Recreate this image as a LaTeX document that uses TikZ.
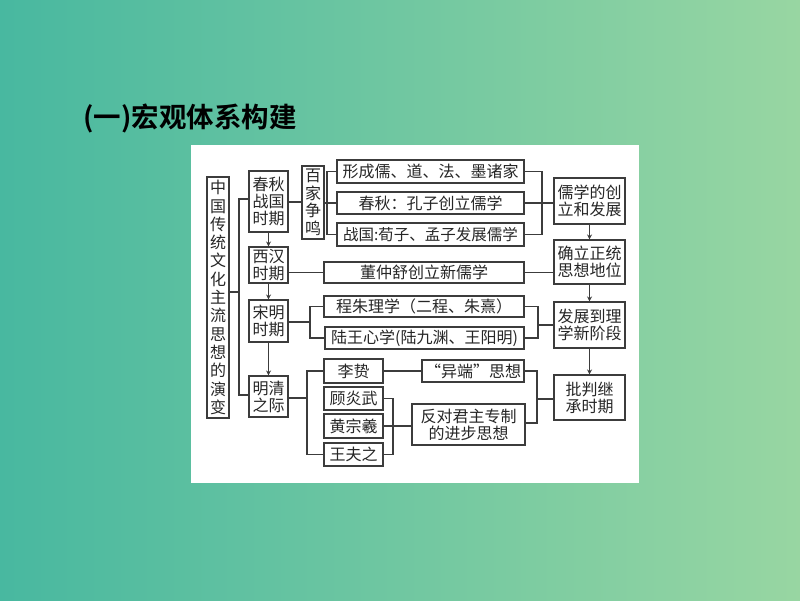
\documentclass[tikz,border=0pt]{standalone}
\usepackage{fontspec}
\setmainfont{Noto Sans CJK SC}
\newfontfamily\cjk{Noto Sans CJK SC}
\newfontfamily\cjkb{Noto Sans CJK SC}[BoldFont=* Bold]
\definecolor{bgL}{RGB}{72,184,160}
\definecolor{bgR}{RGB}{152,214,162}
\definecolor{ln}{RGB}{60,60,60}
\tikzset{
  bx/.style={draw=ln, line width=1.1pt, fill=white, inner sep=0pt, align=center,
    font=\fontsize{16}{17}\selectfont\cjk, text=black!85},
  cn/.style={draw=ln, line width=1.1pt},
  ar/.style={draw=ln, line width=1.1pt, -{Stealth[length=5pt,width=5pt]}},
}
\usetikzlibrary{arrows.meta,calc}
\begin{document}
\begin{tikzpicture}[x=1pt,y=-1pt]
\shade[left color=bgL, right color=bgR] (0,0) rectangle (800,600);
\useasboundingbox (0,0) rectangle (800,600);
\node[anchor=west, font=\fontsize{27.5}{30}\selectfont\cjkb\bfseries, text=black] (title) at (80,118) {(一)宏观体系构建};
\fill[white] (191,145) rectangle (639,483);
% left column
\node[bx, minimum width=22pt, minimum height=241pt, font=\fontsize{16}{18.3}\selectfont\cjk] (main) at (218,297.5)
 {中\\国\\传\\统\\文\\化\\主\\流\\思\\想\\的\\演\\变};
\node[bx, minimum width=39pt, minimum height=61pt] (cq) at (268.5,201.5) {春秋\\战国\\时期};
\node[bx, minimum width=39pt, minimum height=36pt] (xh) at (268.5,265) {西汉\\时期};
\node[bx, minimum width=39pt, minimum height=42pt] (sm) at (268.5,321) {宋明\\时期};
\node[bx, minimum width=39pt, minimum height=41pt] (mq) at (268.5,396.5) {明清\\之际};
\node[bx, minimum width=22pt, minimum height=73pt, font=\fontsize{16}{17.5}\selectfont\cjk] (bj) at (313,202.5) {百\\家\\争\\鸣};
% middle column
\node[bx, minimum width=187pt, minimum height=23pt] (b1) at (430.5,171.5) {形成儒、道、法、墨诸家};
\node[bx, minimum width=187pt, minimum height=22pt] (b2) at (430.5,203) {春秋：孔子创立儒学};
\node[bx, minimum width=187pt, minimum height=23pt, font=\fontsize{15.5}{17}\selectfont\cjk] (b3) at (430.5,234.5) {战国:荀子、孟子发展儒学};
\node[bx, minimum width=200pt, minimum height=21pt] (dz) at (424,272.5) {董仲舒创立新儒学};
\node[bx, minimum width=200pt, minimum height=21pt] (cz) at (424,306.5) {程朱理学（二程、朱熹）};
\node[bx, minimum width=199pt, minimum height=22pt] (lw) at (424.5,338) {陆王心学(陆九渊、王阳明)};
\node[bx, minimum width=59pt, minimum height=24pt] (lz) at (353.5,371) {李贽};
\node[bx, minimum width=59pt, minimum height=23pt] (gy) at (353.5,398.5) {顾炎武};
\node[bx, minimum width=59pt, minimum height=24pt] (hz) at (353.5,426) {黄宗羲};
\node[bx, minimum width=59pt, minimum height=23pt] (wf) at (353.5,454.5) {王夫之};
\node[bx, minimum width=102pt, minimum height=22pt] (yd) at (473,371) {“异端”思想};
\node[bx, minimum width=113pt, minimum height=41pt] (fd) at (468.5,424.5) {反对君主专制\\的进步思想};
% right column
\node[bx, minimum width=71pt, minimum height=46pt] (r1) at (589.5,201) {儒学的创\\立和发展};
\node[bx, minimum width=71pt, minimum height=44pt] (r2) at (589.5,262) {确立正统\\思想地位};
\node[bx, minimum width=71pt, minimum height=46pt] (r3) at (589.5,325) {发展到理\\学新阶段};
\node[bx, minimum width=71pt, minimum height=45pt] (r4) at (589.5,397.5) {批判继\\承时期};
% left tree
\coordinate (t1) at (239,199);
\coordinate (t2) at (239,395);
\draw[cn] (main.east |- 0,292) -- (239,292);
\draw[cn] (cq.west |- t1) -- (t1) -- (t2) -- (mq.west |- t2);
\draw[ar] (cq) -- (xh);
\draw[ar] (xh) -- (sm);
\draw[ar] (sm) -- (mq);
% 春秋 -> 百家
\draw[cn] (cq.east |- 0,202) -- (bj.west |- 0,202);
\draw[cn] (bj.east |- b2) -- (b2.west);
\draw[cn] (b1.west) -- (327,171.5) -- (327,234.5) -- (b3.west);
\draw[cn] (b1.east) -- (542,171.5) -- (542,234.5) -- (b3.east);
\draw[cn] (b2.east) -- (r1.west |- b2);
% 西汉
\draw[cn] (xh.east |- dz) -- (dz.west);
\draw[cn] (dz.east) -- (r2.west |- dz);
% 宋明
\draw[cn] (sm.east |- 0,322) -- (310,322);
\draw[cn] (cz.west) -- (310,306.5) -- (310,338) -- (lw.west);
\draw[cn] (cz.east) -- (538,306.5) -- (538,338) -- (lw.east);
\draw[cn] (538,325) -- (r3.west);
% 明清
\draw[cn] (mq.east |- 0,398) -- (307,398);
\draw[cn] (lz.west) -- (307,371) -- (307,454.5) -- (wf.west);
\draw[cn] (lz.east) -- (yd.west);
\draw[cn] (gy.east) -- (393,398.5) -- (393,454.5) -- (wf.east);
\draw[cn] (hz.east) -- (fd.west |- hz);
\draw[cn] (yd.east) -- (537,371) -- (537,423) -- (fd.east |- 0,423);
\draw[cn] (537,399) -- (r4.west |- 0,399);
% right arrows
\draw[ar] (r1) -- (r2);
\draw[ar] (r2) -- (r3);
\draw[ar] (r3) -- (r4);
\end{tikzpicture}
\end{document}
